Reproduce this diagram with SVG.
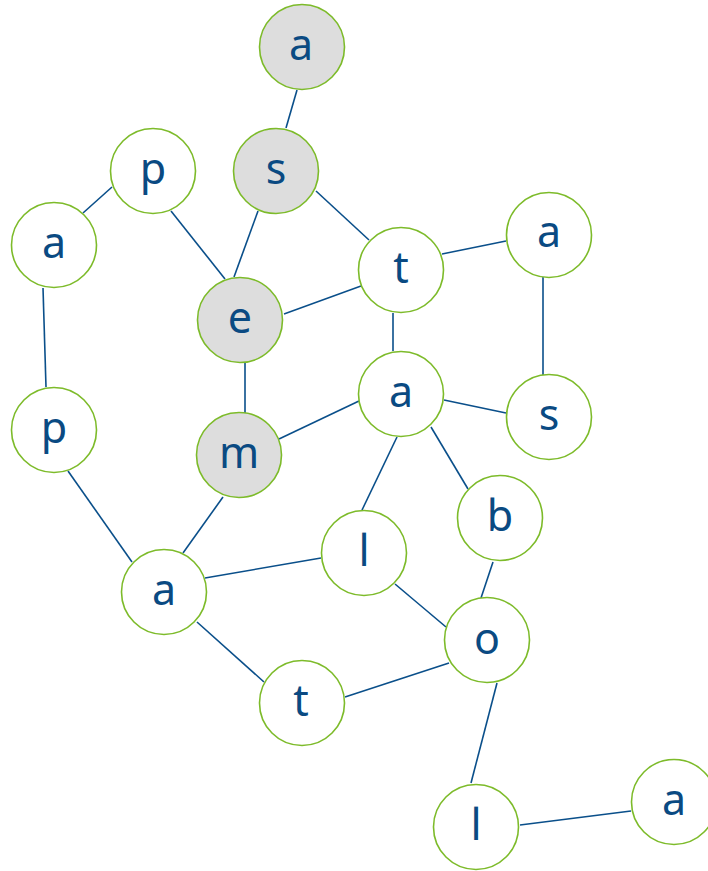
<svg xmlns="http://www.w3.org/2000/svg" width="708" height="871" viewBox="0 0 708 871">
<style>
.edge{stroke:#0a4f8a;stroke-width:1.6;fill:none}
.node circle{fill:#ffffff;stroke:#7dbb2a;stroke-width:1.6}
.node.hl circle{fill:#dddddd}
.node text{font-family:"Noto Sans","Liberation Sans",sans-serif;font-size:43px;fill:#0a4a82;text-anchor:middle}
</style>
<rect width="708" height="871" fill="#ffffff"/>
<g id="connectors">
<line class="edge" x1="297" y1="90" x2="286" y2="128"/>
<line class="edge" x1="258" y1="211" x2="234" y2="277"/>
<line class="edge" x1="316" y1="191" x2="369" y2="240"/>
<line class="edge" x1="112" y1="187" x2="83" y2="213"/>
<line class="edge" x1="171" y1="211" x2="225" y2="279"/>
<line class="edge" x1="43" y1="288" x2="46" y2="387"/>
<line class="edge" x1="284" y1="314" x2="361" y2="286"/>
<line class="edge" x1="442" y1="254" x2="506" y2="241"/>
<line class="edge" x1="393" y1="313" x2="393" y2="351"/>
<line class="edge" x1="543" y1="277" x2="543" y2="375"/>
<line class="edge" x1="245" y1="363" x2="245" y2="413"/>
<line class="edge" x1="279" y1="439" x2="359" y2="401"/>
<line class="edge" x1="444" y1="400" x2="506" y2="413"/>
<line class="edge" x1="397" y1="437" x2="362" y2="510"/>
<line class="edge" x1="431" y1="427" x2="468" y2="489"/>
<line class="edge" x1="68" y1="471" x2="132" y2="562"/>
<line class="edge" x1="223" y1="497" x2="183" y2="553"/>
<line class="edge" x1="205" y1="578" x2="321" y2="558"/>
<line class="edge" x1="197" y1="622" x2="264" y2="682"/>
<line class="edge" x1="395" y1="584" x2="446" y2="627"/>
<line class="edge" x1="493" y1="562" x2="481" y2="598"/>
<line class="edge" x1="345" y1="697" x2="449" y2="663"/>
<line class="edge" x1="497" y1="683" x2="471" y2="783"/>
<line class="edge" x1="520" y1="825" x2="631" y2="811"/>
</g>
<g id="n1" class="node hl"><circle cx="302" cy="47" r="42.5"/><text x="301" y="60">a</text></g>
<g id="n2" class="node hl"><circle cx="276" cy="171" r="42.5"/><text x="276" y="184">s</text></g>
<g id="n3" class="node"><circle cx="153" cy="171" r="42.5"/><text x="153" y="184">p</text></g>
<g id="n4" class="node"><circle cx="54" cy="245" r="42.5"/><text x="54" y="258">a</text></g>
<g id="n5" class="node"><circle cx="401" cy="270" r="42.5"/><text x="401" y="283">t</text></g>
<g id="n6" class="node"><circle cx="549" cy="235" r="42.5"/><text x="549" y="247">a</text></g>
<g id="n7" class="node hl"><circle cx="240" cy="320" r="42.5"/><text x="240" y="333">e</text></g>
<g id="n8" class="node"><circle cx="54" cy="430" r="42.5"/><text x="54" y="443">p</text></g>
<g id="n9" class="node"><circle cx="401" cy="394" r="42.5"/><text x="401" y="407">a</text></g>
<g id="n10" class="node"><circle cx="549" cy="417" r="42.5"/><text x="549" y="430">s</text></g>
<g id="n11" class="node hl"><circle cx="239" cy="455" r="42.5"/><text x="239" y="468">m</text></g>
<g id="n12" class="node"><circle cx="500" cy="518" r="42.5"/><text x="500" y="531">b</text></g>
<g id="n13" class="node"><circle cx="364" cy="553" r="42.5"/><text x="364" y="566">l</text></g>
<g id="n14" class="node"><circle cx="164" cy="592" r="42.5"/><text x="164" y="605">a</text></g>
<g id="n15" class="node"><circle cx="487" cy="640" r="42.5"/><text x="487" y="654">o</text></g>
<g id="n16" class="node"><circle cx="302" cy="703" r="42.5"/><text x="301" y="716">t</text></g>
<g id="n17" class="node"><circle cx="476" cy="827" r="42.5"/><text x="476" y="840">l</text></g>
<g id="n18" class="node"><circle cx="674" cy="802" r="42.5"/><text x="674" y="815">a</text></g>
</svg>
